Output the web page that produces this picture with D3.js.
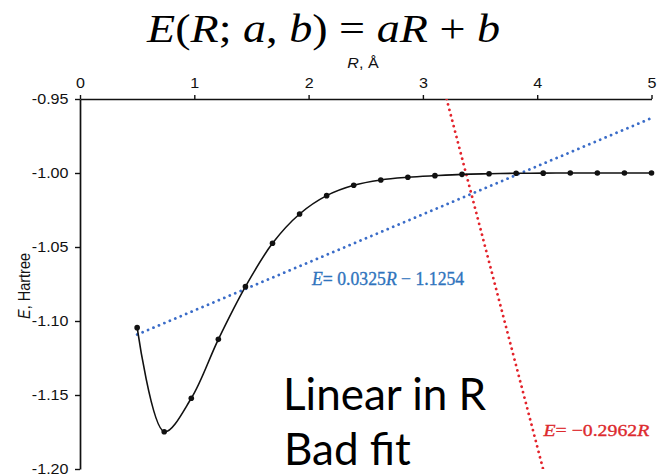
<!DOCTYPE html>
<html>
<head>
<meta charset="utf-8">
<script src="https://cdn.jsdelivr.net/npm/d3@7"></script>
<style>
  body { margin: 0; background: #fff; }
  svg { display: block; }
</style>
</head>
<body>
<svg id="chart" width="657" height="476"></svg>
<script>
// H2 potential energy curve: bond length R (Å) vs energy E (Hartree)
const bondLengths = [0.5, 0.7368, 0.9737, 1.2105, 1.4474, 1.6842, 1.9211, 2.1579, 2.3947, 2.6316,
                     2.8684, 3.1053, 3.3421, 3.5789, 3.8158, 4.0526, 4.2895, 4.5263, 4.7632, 5.0];
const energies = [-1.1045, -1.1748, -1.1522, -1.1124, -1.0768, -1.0475, -1.0277, -1.0153, -1.0083, -1.0047,
                  -1.0029, -1.0018, -1.0009, -1.0005, -1.0002, -1.0001, -1.0000, -1.0000, -1.0000, -1.0000];

// Straight-line fits E = a·R + b : [a, b]
const leastSquaresFit = [0.0325, -1.1254];
const steepFit = [-0.2962, 0];

const xTicks = [0, 1, 2, 3, 4, 5];
const yTicks = [-0.95, -1.00, -1.05, -1.10, -1.15, -1.20];

const svg = d3.select("#chart");
const x = d3.scaleLinear().domain([0, 5]).range([80, 651.5]);
const y = d3.scaleLinear().domain([-0.95, -1.20]).range([99, 469]);

const axisFont = "'Liberation Sans', Arial, Helvetica, sans-serif";
const mathFont = "'Liberation Serif', 'Times New Roman', serif";
const stretch = 1.15;

// Title equation
const title = svg.append("text")
  .attr("x", 147).attr("y", 42)
  .attr("font-family", mathFont).attr("font-size", 40)
  .attr("textLength", 353).attr("lengthAdjust", "spacingAndGlyphs")
  .attr("fill", "#000");
[["E", true], ["(", false], ["R", true], ["; ", false], ["a", true], [", ", false], ["b", true],
 [") = ", false], ["aR", true], [" + ", false], ["b", true]].forEach(([t, it]) => {
  title.append("tspan").attr("font-style", it ? "italic" : "normal").text(t);
});

// Clip region for the fit lines
svg.append("defs").append("clipPath").attr("id", "plotClip")
  .append("rect")
  .attr("x", x(0)).attr("y", y(-0.95))
  .attr("width", x(5) - x(0)).attr("height", y(-1.20) - y(-0.95));

// Axes
const xAxis = svg.append("g")
  .attr("transform", `translate(0,${y(-0.95)})`)
  .call(d3.axisTop(x).tickValues(xTicks).tickFormat(d3.format("d"))
        .tickSize(4).tickSizeOuter(0).tickPadding(7));
const yAxis = svg.append("g")
  .attr("transform", `translate(${x(0)},0)`)
  .call(d3.axisLeft(y).tickValues(yTicks).tickFormat(d3.format(".2f"))
        .tickSize(5).tickSizeOuter(0).tickPadding(5));

[xAxis, yAxis].forEach(g => {
  g.select(".domain").attr("stroke", "#111").attr("stroke-width", 1.7);
  g.selectAll(".tick line").attr("stroke", "#111").attr("stroke-width", 1.4);
  g.selectAll(".tick text")
    .attr("font-family", axisFont).attr("font-size", 14).attr("fill", "#111");
});
xAxis.selectAll(".tick text").attr("transform", `scale(${stretch},1)`);
yAxis.selectAll(".tick text")
  .text(d => d3.format(".2f")(d).replace("−", "-"))
  .attr("transform", `scale(${stretch},1)`);

// Axis titles
const xTitle = svg.append("text")
  .attr("transform", `translate(363,68) scale(${stretch},1)`)
  .attr("text-anchor", "middle")
  .attr("font-family", axisFont).attr("font-size", 14).attr("fill", "#111");
xTitle.append("tspan").attr("font-style", "italic").text("R");
xTitle.append("tspan").text(", Å");

const yTitle = svg.append("text")
  .attr("transform", `translate(24,286) scale(${stretch},1) rotate(-90)`)
  .attr("text-anchor", "middle").attr("dy", "0.35em")
  .attr("font-family", axisFont).attr("font-size", 14.5).attr("fill", "#111");
yTitle.append("tspan").attr("font-style", "italic").text("E");
yTitle.append("tspan").text(", Hartree");

// Fit lines (dotted)
const fitLine = d3.line().x(d => x(d[0])).y(d => y(d[1]));
const fitGroup = svg.append("g").attr("clip-path", "url(#plotClip)");

const bluePts = [bondLengths[0], bondLengths[bondLengths.length - 1]]
  .map(r => [r, leastSquaresFit[0] * r + leastSquaresFit[1]]);
fitGroup.append("path")
  .attr("d", fitLine(bluePts))
  .attr("fill", "none").attr("stroke", "#3a6cc8")
  .attr("stroke-width", 2.8).attr("stroke-linecap", "round")
  .attr("stroke-dasharray", "0.01 5.9");

const redPts = [-0.95, -1.20].map(e => [(e - steepFit[1]) / steepFit[0], e]);
fitGroup.append("path")
  .attr("d", fitLine(redPts))
  .attr("fill", "none").attr("stroke", "#e3232b")
  .attr("stroke-width", 2.8).attr("stroke-linecap", "round")
  .attr("stroke-dasharray", "0.01 5.6");

// Energy curve and sampled points
const curvePts = bondLengths.map((r, i) => [r, energies[i]]);
svg.append("path")
  .attr("d", d3.line().x(d => x(d[0])).y(d => y(d[1])).curve(d3.curveCatmullRom)(curvePts))
  .attr("fill", "none").attr("stroke", "#111").attr("stroke-width", 1.6);

svg.append("g").selectAll("circle")
  .data(curvePts).join("circle")
  .attr("cx", d => x(d[0])).attr("cy", d => y(d[1]))
  .attr("r", 2.8).attr("fill", "#111");

// Fit equations, each drawn as a single text run
function equation(xPos, yPos, size, sx, color, parts) {
  const t = svg.append("text")
    .attr("transform", `translate(${xPos},${yPos}) scale(${sx},1)`)
    .attr("font-family", mathFont).attr("font-size", size)
    .attr("fill", color).attr("stroke", color).attr("stroke-width", 0.35);
  parts.forEach(([s, it]) => t.append("tspan").attr("font-style", it ? "italic" : "normal").text(s));
}
equation(312, 285, 18.5, 0.957, "#2f74bd",
  [["E", true], ["= " + leastSquaresFit[0].toFixed(4), false], ["R", true],
   [" − " + Math.abs(leastSquaresFit[1]).toFixed(4), false]]);
equation(543.5, 436, 17.5, 1.13, "#dd2a2e",
  [["E", true], ["= −" + Math.abs(steepFit[0]).toFixed(4), false], ["R", true]]);

// Annotation
const note = svg.append("g")
  .attr("font-family", "Lato, 'Open Sans', sans-serif").attr("font-size", 44).attr("fill", "#000");
note.append("text").attr("x", 283).attr("y", 410).text("Linear in R");
note.append("text").attr("x", 284).attr("y", 465).text("Bad fit");
</script>
</body>
</html>
